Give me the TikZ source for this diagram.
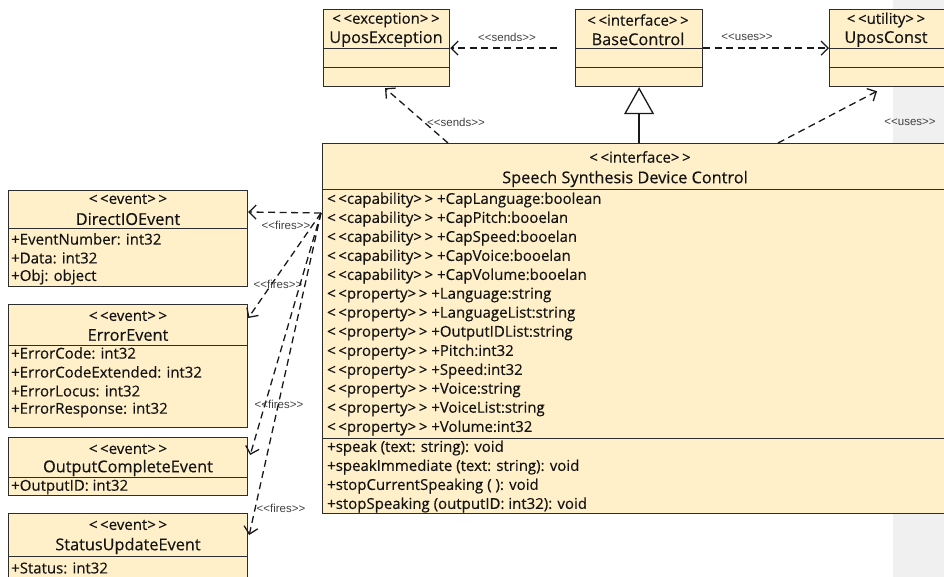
\documentclass[tikz,border=0pt]{standalone}
\usepackage{fontspec}
\newfontfamily\boxfont{Open Sans}[FakeBold=0.35]
\newfontfamily\lblfont{Liberation Sans}
\usetikzlibrary{arrows.meta,calc}
\definecolor{umlfill}{RGB}{255,240,201}
\definecolor{umlline}{RGB}{45,45,45}
\definecolor{pagegray}{RGB}{240,240,240}
% stereotype brackets with a little air between the angle signs
\newcommand\stereo[1]{<\kern2.6pt<#1>\kern2.6pt>}
\tikzset{
  classbox/.style={draw=umlline, line width=1.2pt, fill=umlfill, anchor=north west, inner sep=0pt},
  sepline/.style={draw=umlline, line width=0.9pt},
  txt/.style={inner sep=0pt, font=\boxfont\fontsize{15}{17}\selectfont, text=black!92},
  nametxt/.style={txt, font=\boxfont\fontsize{16.3}{18}\selectfont},
  ltxt/.style={txt, anchor=west},
  dep/.style={draw=black!90, line width=1.3pt, dash pattern=on 7pt off 4.5pt,
    -{Straight Barb[length=7pt,width=14pt,line width=1.3pt]}},
  lbl/.style={inner sep=0pt, font=\lblfont\fontsize{11.5}{13}\selectfont, text=black!75},
  gen/.style={draw=black!90, line width=1.5pt,
    -{Triangle[open, length=27pt, width=30pt, line width=1.3pt]}},
}
\begin{document}
\begin{tikzpicture}[x=1pt,y=-1pt]
\clip (0,0) rectangle (944,577);
\fill[pagegray] (893,0) rectangle (944,577);

% ---------- top row ----------
\node[classbox, minimum width=126pt, minimum height=77pt] (exc) at (323,9) {};
\draw[sepline] (323,48) -- (449,48);
\draw[sepline] (323,67) -- (449,67);
\node[txt] (excst) at (386,20) {\stereo{exception}};
\node[nametxt] (excnm) at (386,39) {UposException};

\node[classbox, minimum width=127pt, minimum height=77pt] (base) at (575,9) {};
\draw[sepline] (575,48) -- (702,48);
\draw[sepline] (575,67) -- (702,67);
\node[txt] (basest) at (638,20) {\stereo{interface}};
\node[nametxt] (basenm) at (638,39) {BaseControl};

\node[classbox, minimum width=130pt, minimum height=77pt] (cnst) at (829,9) {};
\draw[sepline] (829,48) -- (959,48);
\draw[sepline] (829,67) -- (959,67);
\node[txt] (cnstst) at (886,20) {\stereo{utility}};
\node[nametxt] (cnstnm) at (886,39) {UposConst};

% ---------- main interface ----------
\node[classbox, minimum width=640pt, minimum height=370pt] (main) at (322,143) {};
\draw[sepline] (322,189) -- (962,189);
\draw[sepline] (322,438) -- (962,438);
\node[txt] (mainst) at (640,157) {\stereo{interface}};
\node[nametxt] (mainnm) at (625,179) {Speech Synthesis Device Control};
\foreach \t [count=\i from 0] in {
  {\stereo{capability} +CapLanguage:boolean},
  {\stereo{capability} +CapPitch:booelan},
  {\stereo{capability} +CapSpeed:booelan},
  {\stereo{capability} +CapVoice:booelan},
  {\stereo{capability} +CapVolume:booelan},
  {\stereo{property} +Language:string},
  {\stereo{property} +LanguageList:string},
  {\stereo{property} +OutputIDList:string},
  {\stereo{property} +Pitch:int32},
  {\stereo{property} +Speed:int32},
  {\stereo{property} +Voice:string},
  {\stereo{property} +VoiceList:string},
  {\stereo{property} +Volume:int32}}
  \node[ltxt] (attr\i) at (327,{200+19*\i}) {\t};
\foreach \t [count=\i from 0] in {
  {+speak (text: string): void},
  {+speakImmediate (text: string): void},
  {+stopCurrentSpeaking ( ): void},
  {+stopSpeaking (outputID: int32): void}}
  \node[ltxt] (meth\i) at (327,{448+19*\i}) {\t};

% ---------- events ----------
\node[classbox, minimum width=239pt, minimum height=96pt] (dio) at (8,190) {};
\draw[sepline] (8,228) -- (247,228);
\node[txt] (diost) at (128,199) {\stereo{event}};
\node[nametxt] (dionm) at (128,219) {DirectIOEvent};
\node[ltxt] (dioa0) at (11,239) {+EventNumber: int32};
\node[ltxt] (dioa1) at (11,258) {+Data: int32};
\node[ltxt] (dioa2) at (11,277) {+Obj: object};

\node[classbox, minimum width=239pt, minimum height=123pt] (err) at (8,304) {};
\draw[sepline] (8,345) -- (247,345);
\node[txt] (errst) at (128,316) {\stereo{event}};
\node[nametxt] (errnm) at (128,335) {ErrorEvent};
\node[ltxt] (erra0) at (11,353) {+ErrorCode: int32};
\node[ltxt] (erra1) at (11,372) {+ErrorCodeExtended: int32};
\node[ltxt] (erra2) at (11,391) {+ErrorLocus: int32};
\node[ltxt] (erra3) at (11,410) {+ErrorResponse: int32};

\node[classbox, minimum width=239pt, minimum height=58pt] (oce) at (8,437) {};
\draw[sepline] (8,477) -- (247,477);
\node[txt] (ocest) at (128,449) {\stereo{event}};
\node[nametxt] (ocenm) at (128,468) {OutputCompleteEvent};
\node[ltxt] (ocea0) at (11,487) {+OutputID: int32};

\node[classbox, minimum width=239pt, minimum height=90pt] (sue) at (8,513) {};
\draw[sepline] (8,556) -- (247,556);
\node[txt] (suest) at (128,525) {\stereo{event}};
\node[nametxt] (suenm) at (128,546) {StatusUpdateEvent};
\node[ltxt] (suea0) at (11,568) {+Status: int32};

% ---------- relations ----------
\draw[dep, shorten <=18pt] (base.west) -- (exc.east);
\node[lbl] (l1) at (507,37) {<<sends>>};
\draw[dep] (base.east) -- (cnst.west);
\node[lbl] (l2) at (747,37) {<<uses>>};
\draw[gen] (main.north -| base.south) -- (base.south);
\draw[dep] ($(main.north west)+(126,0)$) -- ($(exc.south west)+(62,1)$);
\node[lbl] (l3) at (456,122) {<<sends>>};
\draw[dep] ($(main.north west)+(456,0)$) -- ($(cnst.south west)+(48,4)$);
\node[lbl] (l4) at (910,122) {<<uses>>};

\coordinate (fsrc) at ($(main.north west)+(-1,70)$);
\draw[dep] (fsrc) -- ($(dio.north east)+(0,22)$);
\node[lbl] (f1) at (286,225) {<<fires>>};
\draw[dep] (fsrc) -- ($(err.north east)+(0,14)$);
\node[lbl] (f2) at (278,284) {<<fires>>};
\draw[dep] (fsrc) -- ($(oce.north east)+(2,18)$);
\node[lbl] (f3) at (279,404) {<<fires>>};
\draw[dep] (fsrc) -- ($(sue.north east)+(1,22)$);
\node[lbl] (f4) at (281,508) {<<fires>>};
\end{tikzpicture}
\end{document}
